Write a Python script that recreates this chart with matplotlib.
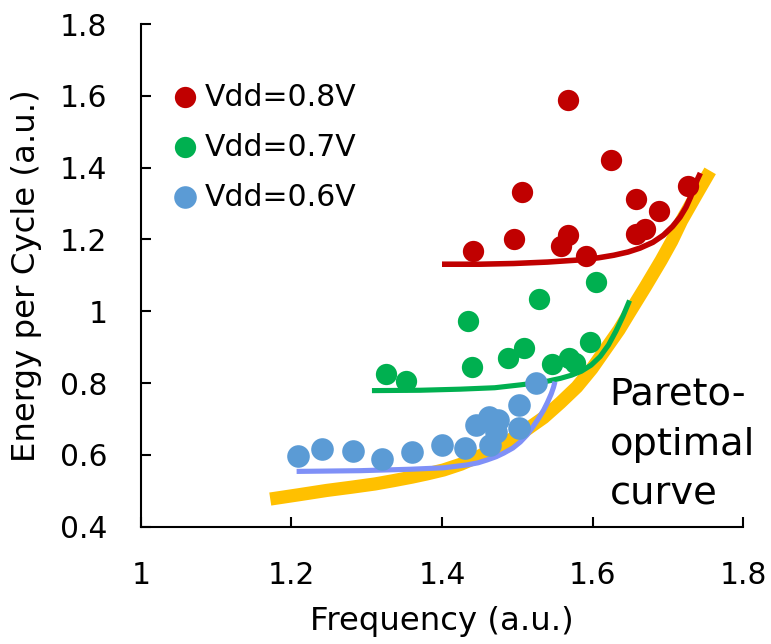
import matplotlib
matplotlib.use("Agg")
import matplotlib.pyplot as plt

# Measured points for each supply voltage
red_x = [1.441, 1.496, 1.506, 1.567, 1.567, 1.558, 1.591, 1.624, 1.657, 1.657, 1.669, 1.688, 1.726]
red_y = [1.168, 1.202, 1.333, 1.587, 1.211, 1.183, 1.154, 1.420, 1.312, 1.215, 1.228, 1.280, 1.349]

green_x = [1.325, 1.352, 1.434, 1.440, 1.488, 1.509, 1.529, 1.546, 1.568, 1.576, 1.597, 1.604]
green_y = [0.825, 0.807, 0.972, 0.845, 0.869, 0.898, 1.035, 0.852, 0.870, 0.855, 0.914, 1.082]

blue_x = [1.209, 1.241, 1.282, 1.320, 1.360, 1.400, 1.431, 1.445, 1.463, 1.475, 1.472, 1.464, 1.502, 1.502, 1.525]
blue_y = [0.597, 0.617, 0.612, 0.589, 0.609, 0.628, 0.618, 0.683, 0.706, 0.697, 0.665, 0.628, 0.739, 0.674, 0.800]

# Trend lines for each voltage
red_fit_x = [1.400, 1.450, 1.495, 1.540, 1.583, 1.608, 1.628, 1.647, 1.663, 1.680,
             1.694, 1.706, 1.716, 1.724, 1.730, 1.735, 1.739, 1.743]
red_fit_y = [1.131, 1.131, 1.133, 1.137, 1.143, 1.149, 1.156, 1.165, 1.176, 1.192,
             1.212, 1.236, 1.262, 1.290, 1.318, 1.345, 1.367, 1.385]

green_fit_x = [1.307, 1.371, 1.424, 1.470, 1.504, 1.535, 1.557, 1.572, 1.585, 1.598,
               1.610, 1.621, 1.631, 1.640, 1.649]
green_fit_y = [0.779, 0.780, 0.783, 0.787, 0.795, 0.803, 0.813, 0.822, 0.833, 0.850,
               0.874, 0.906, 0.945, 0.985, 1.030]

blue_fit_x = [1.207, 1.291, 1.358, 1.402, 1.433, 1.448, 1.460, 1.472, 1.482, 1.494,
              1.504, 1.513, 1.521, 1.528, 1.535, 1.540, 1.545, 1.548, 1.550]
blue_fit_y = [0.554, 0.556, 0.560, 0.564, 0.572, 0.578, 0.586, 0.595, 0.605, 0.619,
              0.636, 0.656, 0.679, 0.701, 0.725, 0.746, 0.770, 0.788, 0.804]

# Pareto-optimal frontier
pareto_x = [1.172, 1.210, 1.247, 1.280, 1.311, 1.335, 1.360, 1.380, 1.402, 1.425,
            1.446, 1.468, 1.490, 1.512, 1.535, 1.557, 1.579, 1.599, 1.620, 1.635,
            1.648, 1.670, 1.691, 1.705, 1.718, 1.737, 1.756]
pareto_y = [0.477, 0.489, 0.501, 0.510, 0.519, 0.528, 0.538, 0.547, 0.558, 0.574,
            0.593, 0.615, 0.641, 0.670, 0.704, 0.745, 0.789, 0.840, 0.903, 0.948,
            0.993, 1.068, 1.142, 1.195, 1.252, 1.322, 1.391]

x_ticks = [1.0, 1.2, 1.4, 1.6, 1.8]
x_tick_labels = ["1", "1.2", "1.4", "1.6", "1.8"]
y_ticks = [0.4, 0.6, 0.8, 1.0, 1.2, 1.4, 1.6, 1.8]
y_tick_labels = ["0.4", "0.6", "0.8", "1", "1.2", "1.4", "1.6", "1.8"]

RED = "#C00000"
GREEN = "#00B050"
BLUE = "#5B9BD5"
LAVENDER = "#7F90F7"
GOLD = "#FFC000"

plt.rcParams["font.family"] = ["DejaVu Sans"]

fig = plt.figure(figsize=(7.71, 6.44), dpi=100)
ax = fig.add_axes([140.7 / 771, 1 - 526.7 / 644, 602.6 / 771, 502.7 / 644])

line_kw = dict(solid_capstyle="butt", solid_joinstyle="round")
ax.plot(pareto_x, pareto_y, color=GOLD, lw=9.5, zorder=2, **line_kw)
ax.plot(red_fit_x, red_fit_y, color=RED, lw=4, zorder=3, **line_kw)
ax.plot(green_fit_x, green_fit_y, color=GREEN, lw=3.7, zorder=3, **line_kw)
ax.plot(blue_fit_x, blue_fit_y, color=LAVENDER, lw=3.7, zorder=3, **line_kw)

ax.scatter(red_x, red_y, s=235, color=RED, linewidths=0, zorder=4, label="Vdd=0.8V")
ax.scatter(green_x, green_y, s=235, color=GREEN, linewidths=0, zorder=4, label="Vdd=0.7V")
ax.scatter(blue_x, blue_y, s=265, color=BLUE, linewidths=0, zorder=4, label="Vdd=0.6V")

ax.set_xlim(1.0, 1.8)
ax.set_ylim(0.4, 1.8)
ax.set_xticks(x_ticks)
ax.set_xticklabels(x_tick_labels)
ax.set_yticks(y_ticks)
ax.set_yticklabels(y_tick_labels)

for side in ("top", "right"):
    ax.spines[side].set_visible(False)
for side in ("left", "bottom"):
    ax.spines[side].set_linewidth(1.5)

ax.tick_params(axis="both", direction="in", length=7.2, width=1.5, labelsize=21.4)
ax.tick_params(axis="y", pad=24)
ax.tick_params(axis="x", pad=25)

ax.set_xlabel("Frequency (a.u.)", fontsize=23.3)
ax.set_ylabel("Energy per Cycle (a.u.)", fontsize=23.3)
ax.xaxis.set_label_coords(0.5, -0.1577)
ax.yaxis.set_label_coords(-0.1638, 0.5)

ax.text(1.6223, 0.818, "Pareto-\noptimal\ncurve", fontsize=27.6, ha="left", va="top",
        linespacing=1.5, zorder=5)

ax.legend(loc="upper left", bbox_to_anchor=(173 / 771, 1 - 83 / 644),
          bbox_transform=fig.transFigure, frameon=False, fontsize=21.5,
          borderpad=0, borderaxespad=0, handlelength=0.8, handletextpad=0.25,
          labelspacing=0.7, scatterpoints=1, handleheight=0.82)

fig.savefig("out.png", dpi=100)
